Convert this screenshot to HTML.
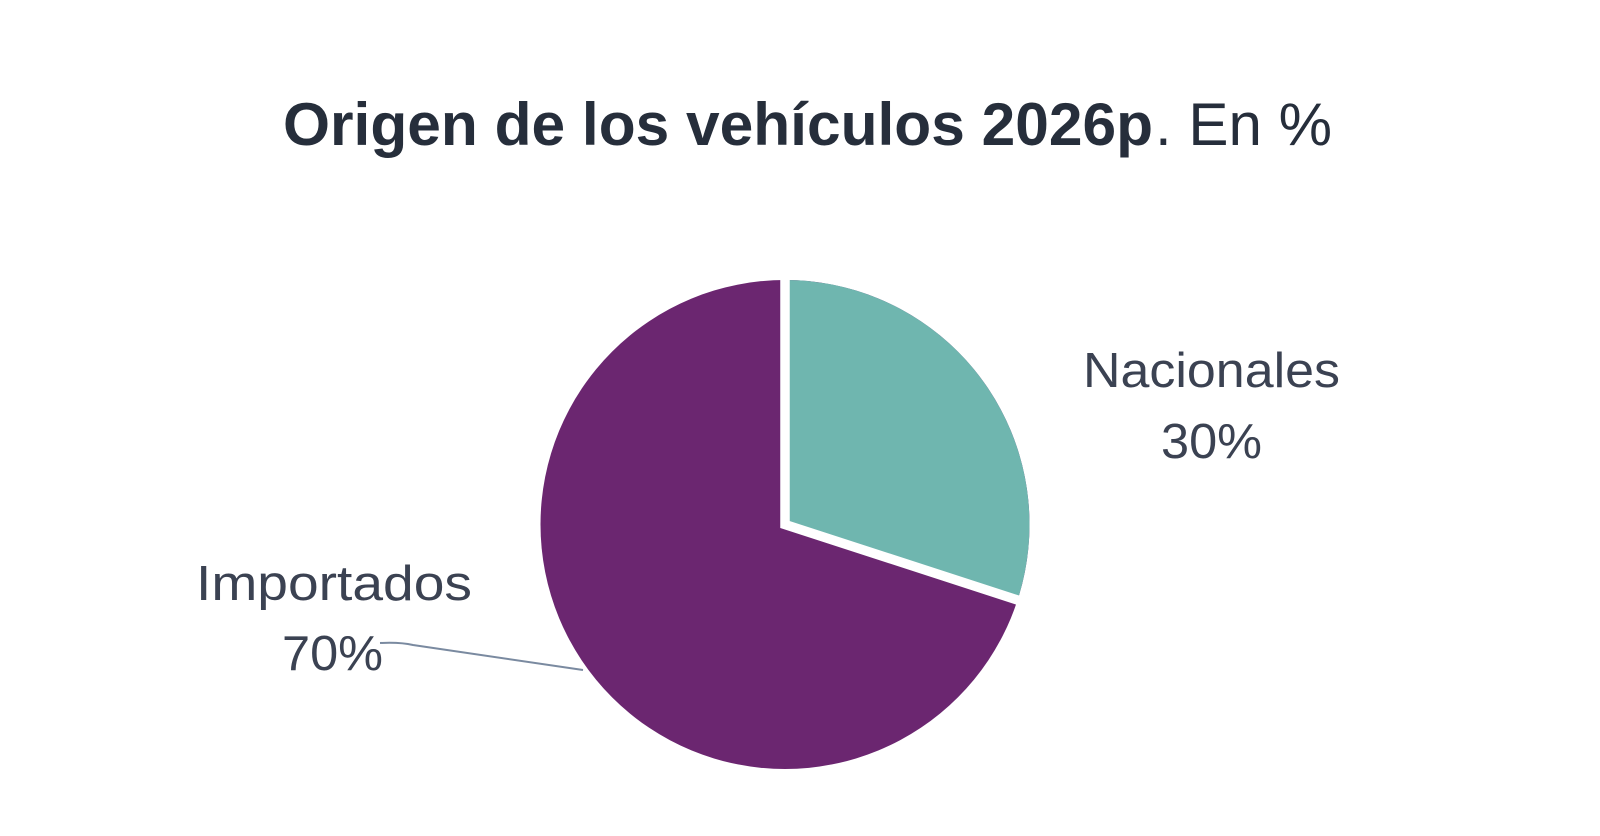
<!DOCTYPE html>
<html>
<head>
<meta charset="utf-8">
<style>
  html, body { margin: 0; padding: 0; background: #ffffff; }
  body { width: 1600px; height: 836px; overflow: hidden; }
  svg { display: block; }
</style>
</head>
<body>
<svg width="1600" height="836" viewBox="0 0 1600 836" xmlns="http://www.w3.org/2000/svg">
  <rect width="1600" height="836" fill="#ffffff"/>

  <!-- Title -->
  <text x="283" y="145" font-family="'Liberation Sans', sans-serif" font-weight="bold" font-size="60" fill="#262e3b" textLength="870" lengthAdjust="spacingAndGlyphs">Origen de los vehículos 2026p</text>
  <text x="1155" y="145" font-family="'Liberation Sans', sans-serif" font-size="60" fill="#262e3b" textLength="177" lengthAdjust="spacingAndGlyphs">. En %</text>

  <!-- Pie -->
  <circle cx="785" cy="524.5" r="244.5" fill="#6b2670"/>
  <path d="M785 524.5 L785 280 A244.5 244.5 0 0 1 1017.5 600.1 Z" fill="#6fb6af"/>
  <polyline points="785,268 785,524.5 1032.3,604.8" fill="none" stroke="#ffffff" stroke-width="9.5" stroke-linejoin="miter"/>

  <!-- Leader line -->
  <path d="M380 643 Q400 642 413 645 L583 670" fill="none" stroke="#7a8aa0" stroke-width="2"/>

  <!-- Labels -->
  <text x="1083" y="387" font-family="'Liberation Sans', sans-serif" font-size="49" fill="#3b4252" textLength="257" lengthAdjust="spacingAndGlyphs">Nacionales</text>
  <text x="1161" y="458" font-family="'Liberation Sans', sans-serif" font-size="49" fill="#3b4252" textLength="101" lengthAdjust="spacingAndGlyphs">30%</text>

  <text x="196" y="600" font-family="'Liberation Sans', sans-serif" font-size="49" fill="#3b4252" textLength="276" lengthAdjust="spacingAndGlyphs">Importados</text>
  <text x="282" y="670" font-family="'Liberation Sans', sans-serif" font-size="49" fill="#3b4252" textLength="101" lengthAdjust="spacingAndGlyphs">70%</text>
</svg>
</body>
</html>
